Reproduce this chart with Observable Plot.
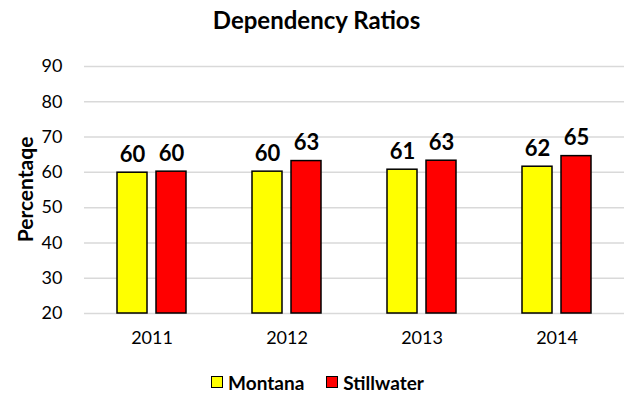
<!DOCTYPE html>
<html><head><meta charset="utf-8">
<script src="https://cdn.jsdelivr.net/npm/d3@7"></script>
<script src="https://cdn.jsdelivr.net/npm/@observablehq/plot@0.6"></script>
<style>
body{margin:0;background:#fff;font-family:Lato,"Open Sans",sans-serif;width:629px;height:402px;overflow:hidden;color:#000}
#title{height:40px;line-height:40px;text-align:center;font-weight:bold;font-size:24px;padding-left:4px}
#chart svg{display:block;font-family:Lato,"Open Sans",sans-serif}
#legend{display:flex;justify-content:center;align-items:center;gap:22px;font-weight:bold;font-size:19px;height:24px;padding-left:6px}
#legend .item{display:flex;align-items:center;gap:5px}
#legend .sw{width:10px;height:10px;border:1.5px solid #000}
</style>
</head><body>
<div id="title">Dependency Ratios</div>
<div id="chart"></div>
<div id="legend"></div>
<script>
const years = ["2011", "2012", "2013", "2014"];
const series = ["Montana", "Stillwater"];
const seriesColors = ["#ffff00", "#ff0000"];
const montana = [59.9, 60.2, 60.75, 61.6];
const stillwater = [60.2, 63.2, 63.3, 64.6];
const yTicks = [20, 30, 40, 50, 60, 70, 80, 90];
const yLabel = "Percentaqe";

const data = [];
years.forEach((y, i) => {
  data.push({year: y, series: "Montana", value: montana[i]});
  data.push({year: y, series: "Stillwater", value: stillwater[i]});
});

const chart = Plot.plot({
  width: 629,
  height: 330,
  marginLeft: 82,
  marginRight: 4,
  marginTop: 26,
  marginBottom: 57,
  style: {fontSize: "18px", color: "#000", background: "#fff"},
  fx: {domain: years, padding: 0, label: null, tickSize: 0, tickPadding: 18, axis: "bottom"},
  x: {domain: series, axis: null, paddingInner: 0.23, paddingOuter: 0.83},
  y: {domain: [20, 90], ticks: yTicks, tickSize: 0, tickPadding: 22, label: null},
  color: {domain: series, range: seriesColors},
  marks: [
    Plot.ruleY(yTicks, {stroke: "#d9d9d9", strokeWidth: 1.5}),
    Plot.barY(data, {fx: "year", x: "series", y1: 20, y2: "value", fill: "series", stroke: "#000", strokeWidth: 1.5}),
    Plot.text(data, {fx: "year", x: "series", y: "value", text: d => String(Math.round(d.value)), lineAnchor: "bottom", dy: -11, fontSize: 22, fontWeight: "bold", fill: "#000"})
  ]
});
document.getElementById("chart").appendChild(chart);

// y-axis title, centred on the y scale's range
const ys = chart.scale("y");
const yMid = (ys.range[0] + ys.range[1]) / 2;
d3.select(chart).append("text")
  .attr("transform", `translate(33,${yMid}) rotate(-90)`)
  .attr("text-anchor", "middle")
  .attr("font-weight", "bold")
  .attr("font-size", 21)
  .attr("fill", "#000")
  .text(yLabel);

const legend = document.getElementById("legend");
series.forEach((s, i) => {
  const item = document.createElement("div");
  item.className = "item";
  const sw = document.createElement("div");
  sw.className = "sw";
  sw.style.background = seriesColors[i];
  const lab = document.createElement("span");
  lab.textContent = s;
  item.appendChild(sw);
  item.appendChild(lab);
  legend.appendChild(item);
});
</script>
</body></html>
